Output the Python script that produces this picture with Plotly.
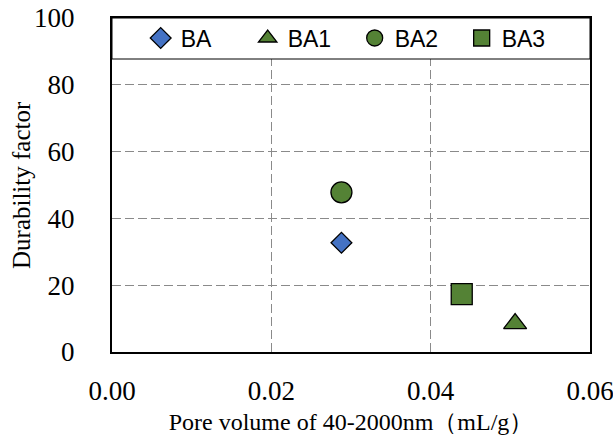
import plotly.graph_objects as go

series_names = ["BA", "BA1", "BA2", "BA3"]
pore_volume = [0.0288, 0.0506, 0.0288, 0.0439]
durability = [32.7, 8.5, 47.8, 17.3]
symbols = ["diamond", "triangle-up", "circle", "square"]
colors = ["#4472C4", "#548235", "#548235", "#548235"]
sizes = [16, 20, 21, 21]

x_ticks = [0.00, 0.02, 0.04, 0.06]
x_ticktext = ["0.00", "0.02", "0.04", "0.06"]
y_ticks = [0, 20, 40, 60, 80, 100]
x_title = "Pore volume of 40-2000nm（mL/g）"
y_title = "Durability factor"

fig = go.Figure()
for name, xv, yv, sym, col, sz in zip(series_names, pore_volume, durability, symbols, colors, sizes):
    fig.add_trace(go.Scatter(
        x=[xv], y=[yv], mode="markers", name=name,
        marker=dict(symbol=sym, color=col, size=sz, line=dict(color="black", width=1.3)),
    ))

serif = "Liberation Serif"

fig.update_layout(
    width=613, height=435,
    font=dict(family=serif, size=27, color="black"),
    margin=dict(l=112, r=23, t=18, b=83, autoexpand=False),
    paper_bgcolor="white", plot_bgcolor="white",
    showlegend=True,
    legend=dict(
        orientation="h", x=0.06, xanchor="left", y=0.94, yanchor="middle",
        bgcolor="rgba(0,0,0,0)", borderwidth=0,
        font=dict(family="Liberation Sans", size=23, color="black"),
        entrywidth=62, entrywidthmode="pixels", itemsizing="trace",
    ),
    xaxis=dict(
        range=[0, 0.0600001], tickvals=x_ticks, ticktext=x_ticktext,
        showgrid=True, gridcolor="#8a8a8a", gridwidth=1, griddash="9px,4px",
        zeroline=False, showline=True, linecolor="black", linewidth=2, mirror=True,
        ticks="", ticklabelstandoff=14, ticklabeloverflow="allow", automargin=False,
        tickfont=dict(family=serif, size=27, color="black"),
        title=dict(text=x_title, font=dict(family=serif, size=24, color="black")),
    ),
    yaxis=dict(
        range=[0, 100], tickvals=y_ticks,
        showgrid=True, gridcolor="#8a8a8a", gridwidth=1, griddash="9px,4px",
        zeroline=False, showline=True, linecolor="black", linewidth=2, mirror=True,
        ticks="", ticklabelstandoff=30, automargin=False,
        tickfont=dict(family=serif, size=27, color="black"),
    ),
)

# y-axis title placed as rotated annotation
fig.add_annotation(text=y_title, xref="paper", yref="paper",
                   x=(21 - 112) / 478, y=0.5, xanchor="center", yanchor="middle",
                   textangle=-90, showarrow=False,
                   font=dict(family=serif, size=25, color="black"))

# legend box spanning the plot width at the top
fig.add_shape(type="rect", xref="paper", yref="paper",
              x0=0, x1=1, y0=(352 - 59) / 334, y1=1,
              fillcolor="white", line=dict(color="black", width=1), layer="above")

fig.write_html("out.html")
